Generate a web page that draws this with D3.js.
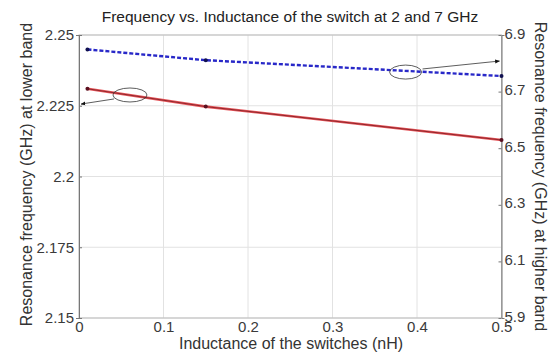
<!DOCTYPE html>
<html>
<head>
<meta charset="utf-8">
<script src="https://cdn.jsdelivr.net/npm/d3@7"></script>
<style>
  body { margin: 0; background: #fff; }
  svg { font-family: "Liberation Sans", Arial, sans-serif; }
  .grid line { stroke: #e2e2e2; }
  .axis text { fill: #3a3a3a; font-size: 15px; }
</style>
</head>
<body>
<script>
const width = 550, height = 352;
const margin = { top: 35, right: 48, bottom: 34, left: 79 };

// data
const inductance = [0.01, 0.15, 0.5];
const lowerBand = [2.231, 2.2247, 2.2129];   // GHz, left axis
const higherBand = [6.849, 6.811, 6.755];    // GHz, right axis

const xTicks = [0, 0.1, 0.2, 0.3, 0.4, 0.5];
const leftTicks = [2.15, 2.175, 2.2, 2.225, 2.25];
const rightTicks = [5.9, 6.1, 6.3, 6.5, 6.7, 6.9];

const svg = d3.select("body").append("svg")
  .attr("width", width)
  .attr("height", height);

const x = d3.scaleLinear().domain([0, 0.5]).range([margin.left, width - margin.right - 0.5]);
const yL = d3.scaleLinear().domain([2.15, 2.25]).range([height - margin.bottom, margin.top]);
const yR = d3.scaleLinear().domain([5.9, 6.9]).range([height - margin.bottom, margin.top]);

// grid
const grid = svg.append("g").attr("class", "grid");
grid.selectAll(".vg").data(xTicks).enter().append("line")
  .attr("x1", d => x(d)).attr("x2", d => x(d))
  .attr("y1", yL.range()[0]).attr("y2", yL.range()[1]);
grid.selectAll(".hg").data(leftTicks).enter().append("line")
  .attr("x1", x.range()[0]).attr("x2", x.range()[1])
  .attr("y1", d => yL(d)).attr("y2", d => yL(d));

// frame
svg.append("rect")
  .attr("x", x.range()[0]).attr("y", yL.range()[1])
  .attr("width", x.range()[1] - x.range()[0])
  .attr("height", yL.range()[0] - yL.range()[1])
  .attr("fill", "none").attr("stroke", "#bbb");

// axes
const fmtL = d => d3.format("")(+d.toFixed(3));
svg.append("g").attr("class", "axis")
  .attr("transform", `translate(${margin.left},0)`)
  .call(d3.axisLeft(yL).tickValues(leftTicks).tickFormat(fmtL).tickSize(3).tickPadding(2))
  .call(g => g.select(".domain").attr("stroke", "#777"))
  .call(g => g.selectAll(".tick line").attr("stroke", "#777").attr("x2", 3));

svg.append("g").attr("class", "axis")
  .attr("transform", `translate(${x.range()[1]},0)`)
  .call(d3.axisRight(yR).tickValues(rightTicks).tickFormat(d3.format(".1f")).tickSize(3).tickPadding(0))
  .call(g => g.select(".domain").attr("stroke", "#777"))
  .call(g => g.selectAll(".tick line").attr("stroke", "#777").attr("x2", -3))
  .call(g => g.selectAll(".tick text").attr("dy", "0.2em"));

svg.append("g").attr("class", "axis")
  .attr("transform", `translate(0,${height - margin.bottom})`)
  .call(d3.axisBottom(x).tickValues(xTicks).tickFormat(d => d === 0 ? "0" : d3.format(".1f")(d)).tickSize(0).tickPadding(3))
  .call(g => g.select(".domain").remove());

// titles
svg.append("text")
  .attr("x", 290).attr("y", 22)
  .attr("text-anchor", "middle")
  .attr("font-size", 15.5).attr("fill", "#222")
  .text("Frequency vs. Inductance of the switch at 2 and 7 GHz");

svg.append("text")
  .attr("x", 291).attr("y", 349)
  .attr("text-anchor", "middle")
  .attr("font-size", 16).attr("fill", "#333")
  .text("Inductance of the switches (nH)");

svg.append("text")
  .attr("transform", `translate(32,${(margin.top + height - margin.bottom) / 2 - 2}) rotate(-90)`)
  .attr("text-anchor", "middle")
  .attr("font-size", 16).attr("fill", "#333")
  .text("Resonance frequency (GHz) at lower band");

svg.append("text")
  .attr("transform", `translate(535,${(margin.top + height - margin.bottom) / 2}) rotate(90)`)
  .attr("text-anchor", "middle")
  .attr("font-size", 16).attr("fill", "#333")
  .text("Resonance frequency (GHz) at higher band");

// series
const lower = inductance.map((d, i) => [d, lowerBand[i]]);
const higher = inductance.map((d, i) => [d, higherBand[i]]);

const lineL = d3.line().x(d => x(d[0])).y(d => yL(d[1]));
const lineR = d3.line().x(d => x(d[0])).y(d => yR(d[1]));

svg.append("path").datum(lower)
  .attr("d", lineL).attr("fill", "none")
  .attr("stroke", "#e6555a").attr("stroke-width", 2.6);
svg.append("path").datum(lower)
  .attr("d", lineL).attr("fill", "none")
  .attr("stroke", "#7a1a20").attr("stroke-width", 0.8);
svg.selectAll(".mL").data(lower).enter().append("circle")
  .attr("cx", d => x(d[0])).attr("cy", d => yL(d[1]))
  .attr("r", 2).attr("fill", "#5a1020");

svg.append("path").datum(higher)
  .attr("d", lineR).attr("fill", "none")
  .attr("stroke", "#2828c8").attr("stroke-width", 2.4)
  .attr("stroke-dasharray", "4,2");
svg.selectAll(".mR").data(higher).enter().append("circle")
  .attr("cx", d => x(d[0])).attr("cy", d => yR(d[1]))
  .attr("r", 2).attr("fill", "#101050");

// annotations
svg.append("defs").append("marker")
  .attr("id", "arr").attr("viewBox", "0 0 10 10")
  .attr("refX", 9).attr("refY", 5)
  .attr("markerWidth", 6).attr("markerHeight", 6)
  .attr("orient", "auto")
  .append("path").attr("d", "M0,1L10,5L0,9Z").attr("fill", "#111");

svg.append("ellipse")
  .attr("cx", x(0.0603)).attr("cy", yL(2.2288))
  .attr("rx", 17).attr("ry", 7)
  .attr("fill", "none").attr("stroke", "#333").attr("stroke-width", 0.8);
svg.append("line")
  .attr("x1", x(0.0414)).attr("y1", yL(2.2274))
  .attr("x2", x(0.0024)).attr("y2", yL(2.2256))
  .attr("stroke", "#333").attr("stroke-width", 0.8)
  .attr("marker-end", "url(#arr)");

svg.append("ellipse")
  .attr("cx", x(0.3865)).attr("cy", yR(6.769))
  .attr("rx", 16).attr("ry", 7)
  .attr("fill", "none").attr("stroke", "#333").attr("stroke-width", 0.8);
svg.append("line")
  .attr("x1", x(0.4066)).attr("y1", yR(6.78))
  .attr("x2", x(0.4976)).attr("y2", yR(6.808))
  .attr("stroke", "#333").attr("stroke-width", 0.8)
  .attr("marker-end", "url(#arr)");
</script>
</body>
</html>
